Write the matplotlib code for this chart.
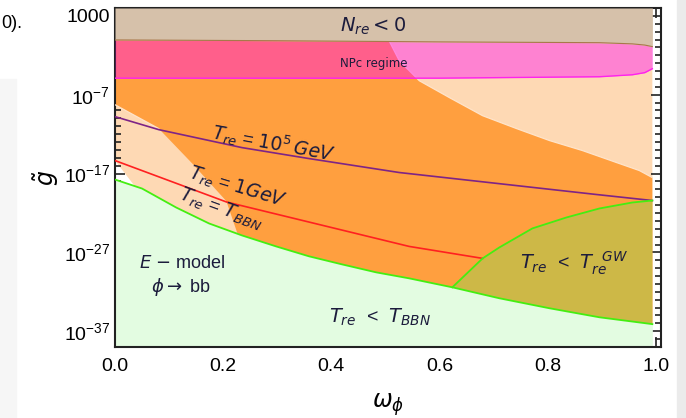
import numpy as np
import matplotlib
matplotlib.use('Agg')
import matplotlib.pyplot as plt
from matplotlib.patches import Rectangle
from matplotlib.ticker import FixedLocator, FixedFormatter

plt.rcParams['font.family'] = 'Liberation Sans'
plt.rcParams['mathtext.fontset'] = 'dejavusans'

# boundaries, as log10(g~)
nre_x = [0.0, 0.3, 0.6, 0.896, 0.957, 0.98, 0.994]
nre_logg = [-0.05, -0.15, -0.3, -0.4, -0.55, -0.7, -0.9]          # N_re < 0 edge
npc_low_logg = [-4.9, -4.9, -4.9, -4.72, -4.47, -4.2, -3.7]      # NPc regime lower edge

orng_ur_x = [0.507, 0.526, 0.563, 0.619, 0.680, 0.743, 0.804, 0.865, 0.928, 0.970, 0.994]
orng_ur_logg = [-0.16, -2.7, -5.23, -7.38, -9.66, -11.30, -12.82, -14.09, -15.61, -16.62, -17.51]
orng_l_x = [0.0, 0.081, 0.143, 0.206, 0.226]
orng_l_logg = [-8.27, -11.30, -15.73, -20.5, -24.5]

bbn_x = [0.0, 0.050, 0.113, 0.174, 0.235, 0.298, 0.359, 0.420, 0.483, 0.544,
         0.624, 0.711, 0.804, 0.896, 0.994]
bbn_logg = [-17.76, -18.9, -21.3, -23.33, -24.85, -26.24, -27.5, -28.52, -29.53, -30.29,
            -31.43, -32.82, -34.09, -35.23, -36.1]

notch_x = [0.0, 0.04]
notch_logg = [-15.35, -18.9]

t5_x = [0.0, 0.081, 0.235, 0.359, 0.526, 0.891, 0.994]
t5_logg = [-9.78, -11.43, -13.71, -15.1, -16.87, -19.66, -20.42]     # T_re = 10^5 GeV
t1_x = [0.0, 0.206, 0.544, 0.680]
t1_logg = [-15.35, -20.6, -26.24, -27.76]                           # T_re = 1 GeV

gw_x = [0.624, 0.680, 0.711, 0.772, 0.835, 0.896, 0.957, 0.994]
gw_logg = [-31.43, -27.76, -26.37, -23.96, -22.57, -21.43, -20.67, -20.42]

ytick_exp = [3, -7, -17, -27, -37]
ymin, ymax = -39, 4
xend = 0.994

fig = plt.figure(figsize=(6.86, 4.18), dpi=100)
fig.patches.append(Rectangle((0, 0), 16 / 686, 1 - 79 / 418, transform=fig.transFigure,
                             color='#F6F6F6', zorder=-5))
fig.patches.append(Rectangle((677 / 686, 0), 9 / 686, 1, transform=fig.transFigure,
                             color='#EBEBEB', zorder=-5))
fig.text(1 / 686, 1 - 24 / 418, '0).', ha='left', va='center', fontsize=13)

ax = fig.add_axes([115 / 686, 1 - 347 / 418, 546 / 686, 339 / 418])
ax.set_yscale('log')

bbn_x_a = np.array(bbn_x)
bbn_l_a = np.array(bbn_logg)

# peach background above T_BBN
sel_p = bbn_x_a > notch_x[-1]
px = [0.0] + notch_x + list(bbn_x_a[sel_p]) + [xend, 0.0]
py = [ymax] + notch_logg + list(bbn_l_a[sel_p]) + [ymax, ymax]
ax.fill(px, 10.0 ** np.array(py), color='#FED9B4', lw=0, zorder=1)

# orange region
sel = bbn_x_a > orng_l_x[-1]
ox = [0.0, orng_ur_x[0]] + orng_ur_x + list(bbn_x_a[sel][::-1]) + orng_l_x[::-1]
oy = [ymax, ymax] + orng_ur_logg + list(bbn_l_a[sel][::-1]) + orng_l_logg[::-1]
ax.fill(ox, 10.0 ** np.array(oy), color='#FF9F3F', lw=0, zorder=2)
ax.plot(orng_ur_x, 10.0 ** np.array(orng_ur_logg), color='#FFE4CA', lw=0.9, zorder=3)
ax.plot(orng_l_x[:2], 10.0 ** np.array(orng_l_logg[:2]), color='#FFE4CA', lw=0.9, zorder=3)

# NPc regime (translucent magenta) and N_re < 0
ax.fill_between(nre_x, 10.0 ** np.array(npc_low_logg), 10.0 ** np.array(nre_logg),
                color='#FF00FF', alpha=0.4, lw=0, zorder=4)
ax.plot(nre_x, 10.0 ** np.array(npc_low_logg), color='#FF22EE', lw=1.0, zorder=5)
ax.fill_between(nre_x, 10.0 ** np.array(nre_logg), 10.0 ** ymax, color='#D6C1AA', lw=0, zorder=6)
ax.plot(nre_x, 10.0 ** np.array(nre_logg), color='#A8784A', lw=0.8, zorder=6)

# light green below T_BBN
ax.fill_between(bbn_x, 10.0 ** ymin, 10.0 ** bbn_l_a, color='#E3FCE1', lw=0, zorder=2)

# olive T_re < T_re^GW
sel_gw = bbn_x_a >= gw_x[0]
gx = gw_x + list(bbn_x_a[sel_gw][::-1])
gy = gw_logg + list(bbn_l_a[sel_gw][::-1])
ax.fill(gx, 10.0 ** np.array(gy), color='#CDB847', lw=0, zorder=7)

# lines
ax.plot(t5_x, 10.0 ** np.array(t5_logg), color='#7E2486', lw=1.2, zorder=8)
ax.plot(t1_x, 10.0 ** np.array(t1_logg), color='#FF2020', lw=1.2, zorder=8)
ax.plot(bbn_x, 10.0 ** bbn_l_a, color='#44EE11', lw=1.3, zorder=8)
ax.plot(gw_x, 10.0 ** np.array(gw_logg), color='#44EE11', lw=1.3, zorder=8)

tc = '#1C1C3C'
ax.text(0.478, 10 ** 1.7, r'$N_{re} < 0$', color=tc, fontsize=14, ha='center', va='center', zorder=10)
ax.text(0.478, 10 ** -3.1, 'NPc regime', color=tc, fontsize=8.5, ha='center', va='center',
        family='DejaVu Sans', zorder=10)
ax.text(0.294, 10 ** -13.2, r'$T_{re}$ = $10^5\, GeV$', color=tc, fontsize=13.5, rotation=-10.5,
        ha='center', va='center', zorder=10)
ax.text(0.226, 10 ** -18.8, r'$T_{re}$ = $1 GeV$', color=tc, fontsize=13.5, rotation=-17,
        ha='center', va='center', zorder=10)
ax.text(0.195, 10 ** -21.5, r'$T_{re}$ = $T_{BBN}$', color=tc, fontsize=13.5, rotation=-20,
        ha='center', va='center', zorder=10)
ax.text(0.124, 10 ** -28.4, r'$E$ $-$ model', color=tc, fontsize=13, ha='center', va='center', zorder=10)
ax.text(0.122, 10 ** -31.4, r'$\phi \rightarrow$ bb', color=tc, fontsize=13, ha='center', va='center', zorder=10)
ax.text(0.491, 10 ** -35.3, r'$T_{re}$  <  $T_{BBN}$', color=tc, fontsize=14, ha='center', va='center', zorder=10)
ax.text(0.85, 10 ** -28.4, r'$T_{re}$  <  $T_{re}^{\ \ GW}$', color=tc, fontsize=14, ha='center', va='center', zorder=10)

ax.set_xlim(0, 1.01)
ax.set_ylim(10.0 ** ymin, 10.0 ** ymax)
ax.xaxis.set_major_locator(FixedLocator([0.0, 0.2, 0.4, 0.6, 0.8, 1.0]))
ax.xaxis.set_minor_locator(FixedLocator(np.arange(0, 1.01, 0.05)))
ax.set_xticklabels(['0.0', '0.2', '0.4', '0.6', '0.8', '1.0'])
ax.yaxis.set_major_locator(FixedLocator([10.0 ** e for e in ytick_exp]))
ax.yaxis.set_minor_locator(FixedLocator([10.0 ** e for e in range(ymin, ymax + 1)]))
ax.yaxis.set_major_formatter(FixedFormatter(['1000'] + [r'$\mathregular{10^{%d}}$' % e for e in ytick_exp[1:]]))
ax.yaxis.set_minor_formatter(FixedFormatter([]))
ax.tick_params(which='both', direction='in', top=True, right=True, labelsize=14, width=1.2, color='#222222')
ax.tick_params(axis='x', which='major', pad=8)
ax.tick_params(which='major', length=7)
ax.tick_params(which='minor', length=4)
for s in ax.spines.values():
    s.set_linewidth(1.5)
    s.set_color('#222222')

ax.set_xlabel(r'$\omega_\phi$', fontsize=17, labelpad=12)
ax.set_ylabel(r'$\tilde{g}$', fontsize=17, labelpad=2)

fig.savefig('out.png', dpi=100)
